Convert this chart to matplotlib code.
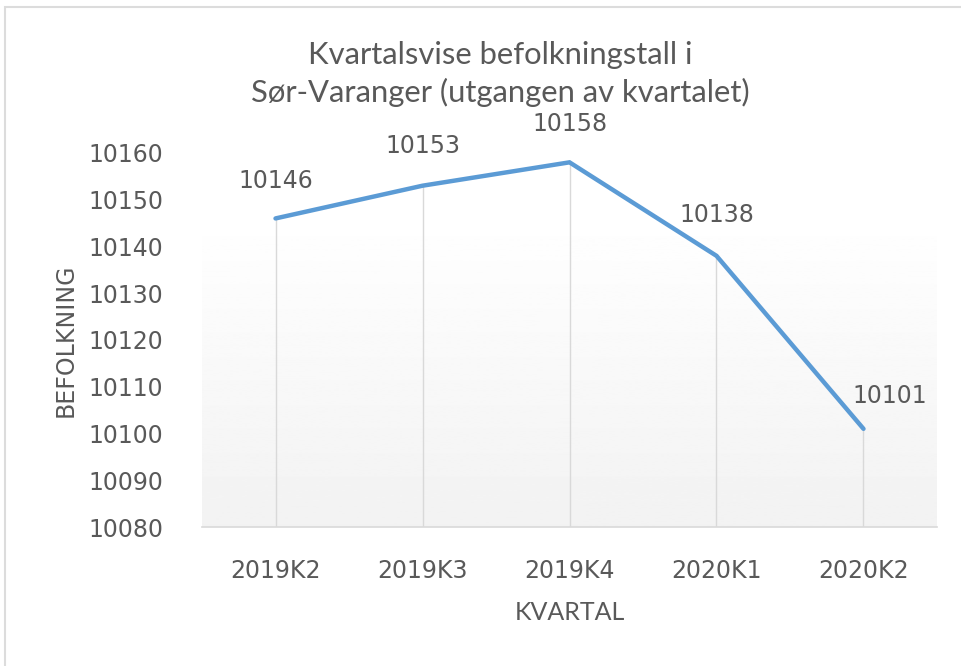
import numpy as np
import matplotlib.pyplot as plt
from matplotlib.patches import Rectangle

# Data
kvartal = ["2019K2", "2019K3", "2019K4", "2020K1", "2020K2"]
befolkning = [10146, 10153, 10158, 10138, 10101]
y_ticks = [10080, 10090, 10100, 10110, 10120, 10130, 10140, 10150, 10160]

tekst_farge = "#595959"
linje_farge = "#5b9bd5"
grid_farge = "#d9d9d9"

fig = plt.figure(figsize=(9.62, 6.66), dpi=100)
ax = fig.add_axes([0.21, 0.2087, 0.764, 0.5616])

x = np.arange(len(kvartal))

# gradient bakgrunn i plottområdet (hvit oppe, lys grå nede)
grad = np.linspace(0.949, 1.0, 256).reshape(-1, 1)
ax.imshow(grad, cmap="gray", vmin=0, vmax=1, aspect="auto", origin="lower",
          extent=[0, 1, 0, 0.84], transform=ax.transAxes, zorder=0)

# dropplinjer
ax.vlines(x, y_ticks[0], befolkning, color=grid_farge, lw=1.0, zorder=1)
ax.plot(x, befolkning, color=linje_farge, lw=3.2, solid_capstyle="round",
        solid_joinstyle="miter", zorder=3, clip_on=False)

# dataetiketter (forskyvning i piksler)
forskyvning = [(0, 37), (0, 40), (0, 38), (0, 41), (26, 33)]
for xi, yi, (dx, dy) in zip(x, befolkning, forskyvning):
    ax.annotate(str(yi), (xi, yi), xytext=(dx * 0.72, dy * 0.72),
                textcoords="offset points", ha="center", va="center",
                fontsize=17, color=tekst_farge, family="DejaVu Sans")

ax.set_xlim(-0.5, len(kvartal) - 0.5)
ax.set_ylim(y_ticks[0], y_ticks[-1])
ax.set_yticks(y_ticks)
ax.set_xticks(x)
ax.set_xticklabels(kvartal)
ax.tick_params(axis="both", length=0, labelsize=17, labelcolor=tekst_farge)
ax.tick_params(axis="x", pad=23)
ax.tick_params(axis="y", pad=28)

for s in ["top", "right", "left"]:
    ax.spines[s].set_visible(False)
ax.spines["bottom"].set_color(grid_farge)
ax.spines["bottom"].set_linewidth(1.2)
ax.patch.set_alpha(0)

fig.text(66 / 962, 1 - 340 / 666, "BEFOLKNING", rotation=90, ha="center",
         va="center", fontsize=17, color=tekst_farge, family="DejaVu Sans")
fig.text(570 / 962, 1 - 612 / 666, "KVARTAL", ha="center", va="center",
         fontsize=18, color=tekst_farge, family="Lato")

fig.text(500 / 962, 1 - 74 / 666, "Kvartalsvise befolkningstall i\nSør-Varanger (utgangen av kvartalet)",
         ha="center", va="center", fontsize=22.3, color=tekst_farge,
         family="Lato", linespacing=1.4)

# ramme rundt diagrammet
fig.patches.append(Rectangle((5 / 962, -0.1), 1.2, 1 - 7 / 666 + 0.1,
                             transform=fig.transFigure, fill=False,
                             edgecolor="#dcdcdc", lw=1.5))

fig.savefig("out.png", dpi=100)
